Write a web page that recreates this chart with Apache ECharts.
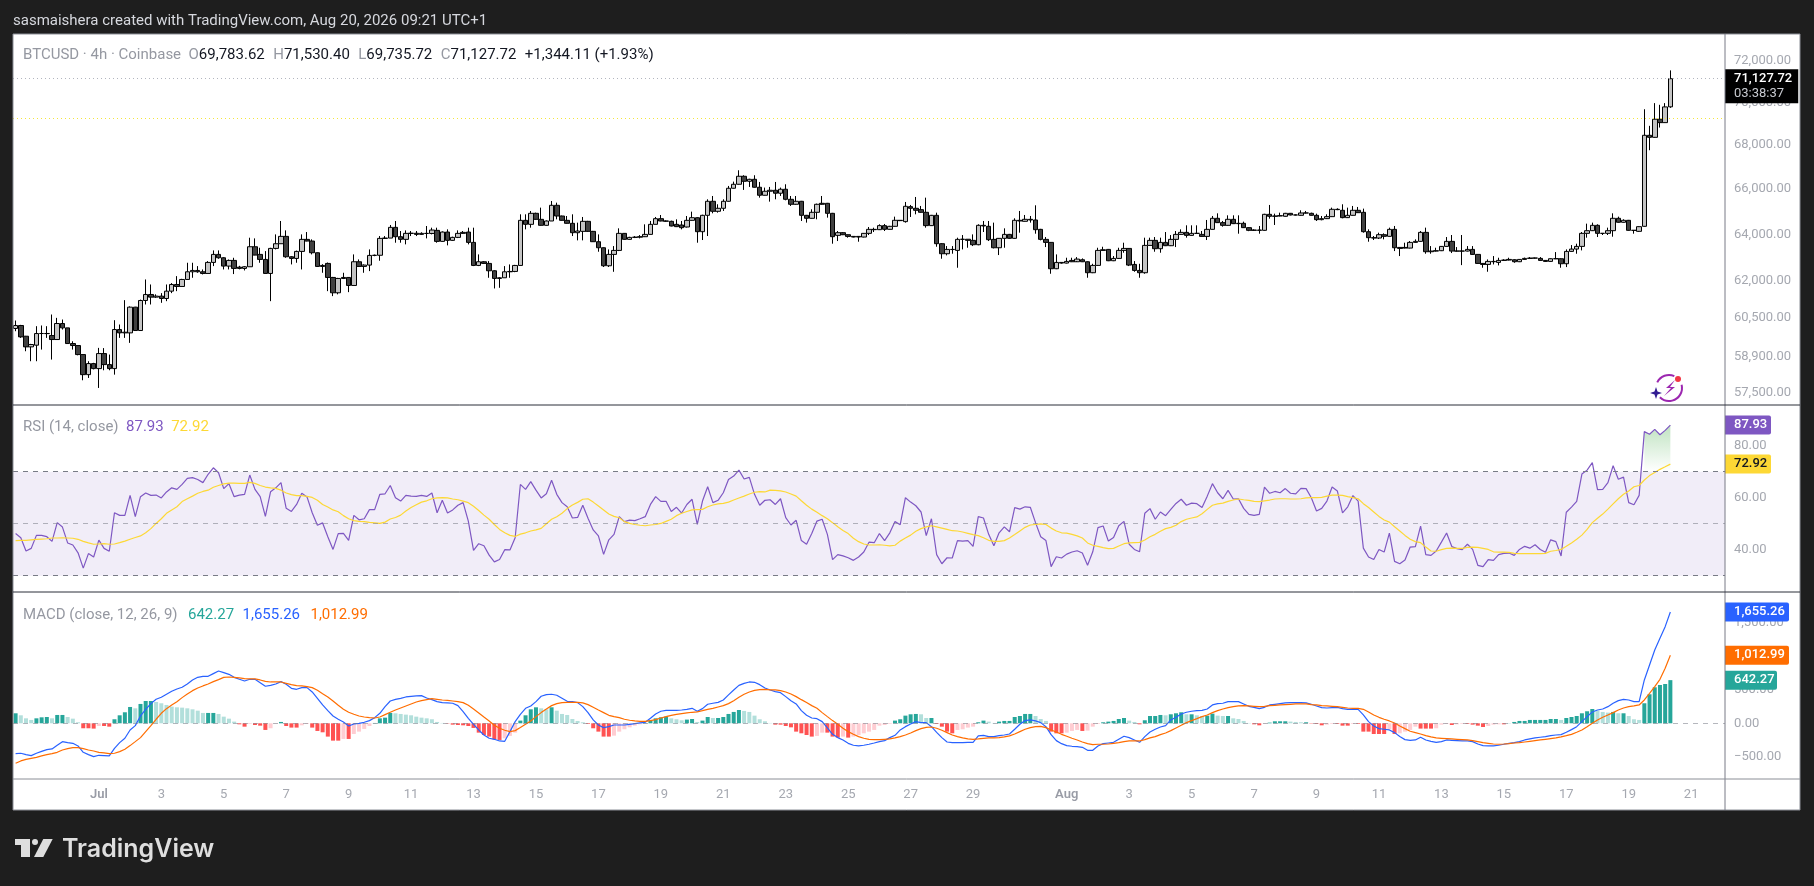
<!DOCTYPE html>
<html><head><meta charset="utf-8">
<style>html,body{margin:0;padding:0;background:#1e1e1e;overflow:hidden}#c{width:1814px;height:886px}</style>
<script src="https://cdn.jsdelivr.net/npm/echarts@6/dist/echarts.min.js"></script>
</head><body><div id="c"></div>
<script>
const opens=[60041,60165,59729,59298,59366,59837,59840,59755,59594,60246,
60068,59433,59352,58990,58192,58630,58431,59030,58590,58431,
60000,59864,59864,60918,59960,61194,61444,61333,61375,61277,
61583,61862,61778,62073,62397,62454,62397,62327,62795,63137,
62993,62638,62880,62595,62539,62610,63466,63137,62922,62327,
63394,63596,63914,63036,62965,63265,63784,63712,63208,62666,
62752,62158,61514,62158,62158,61820,62823,62624,62681,63094,
63100,63827,63840,64306,63899,63784,64044,64050,64000,64044,
64040,64175,63697,64102,63741,63870,64044,64102,63654,62666,
62823,62752,62440,62116,62144,62397,62411,62666,64613,64438,
64921,64657,64394,64584,65275,64803,64613,64482,64073,64132,
64569,64132,63683,63423,62652,63137,63308,64044,63784,63870,
63880,63899,64000,64438,64686,64584,64569,64438,64409,64321,
64613,64729,
64117,64833,65453,65010,65143,65453,66034,66213,66573,66347,
66437,66079,65721,65900,65945,65811,65990,65541,65320,65453,
64833,64702,64966,65364,65364,64921,63958,64074,63986,63913,
63913,63884,64045,64219,64205,64381,64220,64351,64614,64556,
65216,65143,65084,64966,64381,64833,63597,63166,63352,63309,
63784,63790,63741,63553,64395,64351,63784,63423,63828,64000,
63828,64614,64570,64658,64629,64219,63784,63654,62526,62795,
62766,62880,62823,62909,62823,62357,62667,63309,63352,62866,
62966,63309,63394,62709,62455,62357,63524,63741,63381,63654,
63510,63784,64000,64088,63957,64045,64000,63913,64219,64702,
64512,64394,64658,64468,64483,64293,64176,64190,64176,64877,
64789,64804,64789,64921,64848,64833,64936,64921,64833,64643,
64687,64775,65098,65054,64731,64833,65054,64965,64117,63857,
63842,63987,63915,64219,63437,63437,63409,63654,63698,64088,
63252,63280,63295,63481,63698,63280,63280,63280,63352,63137,
62752,62709,62838,62795,62880,62895,62909,62824,62923,62966,
62980,62966,62880,62838,62952,62952,62738,63266,63366,63481,
64045,64161,64395,64045,64045,64161,64702,64527,64614,64176,
64132,64351,68450,68355,69200,69040,69783.62];
const closes=[60165,59702,59298,59393,59837,59840,59835,59594,60246,60068,
59433,59352,58990,58192,58630,58431,59030,58590,58431,60000,
59864,59891,60918,59960,61194,61444,61333,61375,61277,61583,
61862,61778,62073,62397,62454,62397,62327,62795,63137,62993,
62638,62880,62539,62539,62610,63466,63108,62922,62327,63394,
63596,63914,63036,62965,63265,63784,63712,63208,62624,62624,
62158,61514,62116,62116,61820,62823,62624,62681,63094,63100,
63827,63840,64306,63899,63784,64044,64050,64000,64044,64040,
64190,63697,64102,63741,63870,64044,64088,63654,62666,62823,
62752,62440,62116,62144,62397,62411,62666,64613,64438,64921,
64657,64394,64584,65275,64803,64613,64482,64073,64146,64569,
64132,63683,63423,62652,63137,63308,64044,63784,63870,63880,
63899,64000,64438,64686,64584,64575,64365,64336,64292,64613,
64729,64117,
64833,65453,65010,65143,65453,66034,66213,66573,66347,66437,
66079,65721,65900,65945,65811,65990,65541,65320,65453,64833,
64702,64966,65320,65320,64921,63900,64074,63986,63913,63884,
63884,64045,64219,64205,64381,64220,64351,64614,64600,65231,
65143,65054,64966,64381,64833,63597,63166,63352,63345,63784,
63790,63741,63553,64395,64366,63770,63423,63828,64000,63828,
64614,64585,64658,64629,64205,63784,63654,62526,62795,62766,
62838,62823,62937,62823,62357,62667,63309,63337,62866,62966,
63309,63394,62681,62455,62357,63524,63741,63381,63654,63510,
63784,64000,64088,63957,64045,64045,63913,64219,64702,64512,
64394,64658,64468,64483,64293,64176,64190,64176,64877,64789,
64804,64818,64921,64848,64848,64936,64936,64833,64643,64687,
64775,65098,65084,64731,64833,65054,64950,64117,63857,63842,
63987,63915,64219,63423,63394,63409,63654,63698,64088,63252,
63280,63295,63481,63698,63280,63280,63280,63352,63137,62752,
62709,62838,62824,62880,62895,62923,62824,62923,62966,62980,
62980,62880,62838,62952,62952,62738,63266,63366,63481,64045,
64161,64395,64045,64045,64161,64702,64527,64614,64176,64176,
64336,68450,68355,69200,69040,69780,71127.72];
const highs=[60368,60190,59740,59420,60137,60165,60137,60615,60477,60409,
60068,59525,59352,59000,58724,58660,59258,59250,58990,60381,
60205,61208,60950,60930,61230,62073,61862,61450,61500,61862,
61920,62214,62100,62780,62780,62638,62496,62850,63308,63308,
63020,62920,62993,62650,62640,63856,63827,63423,63279,63420,
64000,64584,64175,63060,63300,64000,64102,63784,63220,62720,
62790,62180,62140,62355,62170,63137,62922,62710,63351,63130,
63928,63928,64409,64584,64146,64175,64146,64146,64090,64365,
64292,64292,64130,64219,63900,64175,64146,64292,64292,63137,
62850,62851,62460,62170,62638,62709,62690,64877,64877,65024,
64950,65172,64610,65466,65393,64820,64803,64877,64511,64760,
64590,64150,64000,63440,63351,63495,64263,64060,63895,63925,
63970,64438,64584,64760,64847,64610,64600,64657,64584,64803,
64995,64750,
64860,65541,65689,65320,65541,66138,66332,66845,66620,66460,
66620,66317,66064,66094,66317,66064,66213,65689,65689,65470,
64850,65100,65350,65689,65380,64940,64146,64100,64000,63930,
63930,64060,64322,64292,64439,64454,64370,64775,64625,65423,
65290,65645,65246,65615,64850,64950,63620,63495,63495,63857,
63972,63784,64000,64440,64585,64585,64512,63840,64263,64020,
64702,65025,64848,64804,65275,64240,63885,63670,63137,62810,
62995,62995,63023,62966,62840,62737,63423,63466,63370,63066,
63423,63640,63410,62852,62737,63857,63857,63885,63857,64103,
63972,64146,64219,64395,64395,64395,64146,64629,64804,64921,
64585,64833,64833,64833,64556,64310,64220,64366,64900,65290,
64906,64950,64940,64936,64870,65054,65025,64950,64906,64804,
64877,65172,65143,65320,65172,65246,65202,65128,64219,63929,
64074,64045,64293,64366,63450,63640,63712,63785,64146,64293,
63495,63423,63495,63886,63973,63452,63973,63495,63495,63150,
62770,62923,63066,62995,62930,62995,62930,62940,63000,63023,
63000,63023,62895,62970,63237,62970,63352,63538,63597,64103,
64468,64512,64439,64060,64293,64921,64775,64658,64630,64190,
64350,69670,68890,69960,69880,69960,71530.40];
const lows=[59932,59661,59123,58724,58724,59190,59661,58790,59594,60000,
59433,59190,58960,57970,58062,58400,57669,58365,58365,58192,
59661,59661,59460,59950,59960,61028,61028,61300,61097,61166,
61500,61583,61778,62073,62144,62355,62285,62327,62638,62950,
62496,62496,62300,62500,62454,62610,63100,62780,62327,61166,
63350,63596,62993,62709,62780,62496,63700,63137,62600,62355,
61583,61375,61450,62090,61541,61820,62610,62355,62426,63060,
62866,63800,63840,63640,63640,63568,63928,63928,63980,63827,
64000,63640,63680,63525,63720,63840,64020,63568,62638,62638,
62730,62144,61695,61723,62144,62144,62380,62666,64219,64292,
64640,64380,64380,64584,64657,64600,64470,63928,63741,63741,
64110,63670,63251,62600,62600,62397,63280,63770,63770,63840,
63827,63885,64000,64438,64570,64550,64350,64320,64219,64300,
64600,63640,
63756,63929,64921,64951,65025,65440,66020,66200,65960,66094,
66064,65615,65710,65438,65541,65691,65497,65246,65300,64585,
64512,64690,64658,65300,64731,63597,63712,63970,63857,63870,
63683,63870,63972,64103,64190,64146,64210,64340,64580,64512,
64760,64877,64950,64293,64370,63466,62952,63095,63166,62568,
63352,63423,63495,63530,64103,63712,63394,63109,63423,63810,
63810,64074,64560,64512,64030,63741,63452,62314,62510,62740,
62750,62810,62852,62810,62145,62340,62650,63300,62850,62850,
62950,63209,62639,62399,62145,62314,63510,63252,63209,63495,
63495,63452,63985,63857,63940,64020,63900,63756,64205,64498,
64336,64380,64450,64030,64280,64140,64150,64030,64160,64687,
64410,64790,64775,64830,64830,64820,64915,64818,64585,64614,
64670,64760,65060,64702,64715,64820,64935,64074,63683,63756,
63800,63785,63900,63280,63066,63395,63395,63640,63680,63166,
63166,63260,63280,63470,63195,63260,62680,63265,63120,62740,
62568,62399,62709,62667,62860,62880,62780,62810,62910,62950,
62960,62865,62820,62825,62935,62568,62596,63250,63166,63309,
63857,64146,63886,63973,63973,63900,64510,64510,64160,64030,
64110,64340,67760,68340,68810,69030,69735.72];
const rsi=[46.2,44.6,39.5,40.5,45.5,45.5,45.0,43.2,50.4,48.7,42.6,41.8,38.8,32.9,38.5,37.2,43.7,40.5,39.4,54.2,
53.2,53.2,60.9,52.7,60.4,61.8,60.9,61.0,59.9,62.2,63.8,63.2,65.1,67.4,67.7,67.0,65.8,69.0,71.5,69.6,
63.5,65.4,60.4,61.0,61.3,68.7,63.2,60.4,52.8,62.3,63.8,65.8,55.9,54.7,57.4,61.7,60.3,54.2,49.4,50.3,
45.0,40.1,46.2,46.3,43.6,53.2,51.5,51.9,55.4,55.4,61.3,61.5,64.7,60.0,58.7,60.9,60.6,60.5,60.9,60.5,
61.8,54.2,59.0,54.1,55.3,57.1,58.1,51.0,39.7,42.3,41.5,37.9,35.3,36.2,40.0,39.9,44.6,65.1,63.2,66.2,
62.9,59.9,61.5,66.7,61.3,58.1,56.5,52.2,52.4,57.1,52.1,47.6,45.3,38.2,43.8,45.9,52.7,
50.8,51.4,51.2,51.9,52.7,57.4,60.4,58.6,58.6,54.7,56.3,54.1,57.4,59.4,49.7,58.7,64.2,58.1,59.0,61.9,
67.0,68.3,70.6,67.2,67.8,61.3,57.1,59.0,59.2,57.4,59.6,52.3,49.5,51.3,43.5,42.1,46.2,51.0,51.7,45.9,
36.2,38.1,37.6,36.9,35.9,37.2,39.1,42.9,42.7,46.2,43.5,46.5,50.8,49.6,60.0,58.3,56.9,54.5,45.4,51.9,
38.1,34.6,36.9,36.8,43.5,43.3,43.5,41.3,52.7,52.2,45.9,41.5,46.5,48.8,46.9,56.2,55.6,56.5,56.3,50.4,
45.0,43.5,33.5,37.3,36.8,38.3,39.1,39.6,38.7,34.0,39.2,48.5,49.1,43.3,44.7,49.2,50.9,42.1,40.1,39.2,
54.0,55.8,51.7,54.5,53.1,55.5,57.8,59.4,57.1,57.9,57.7,56.2,
60.6,65.4,61.9,59.6,62.8,59.5,59.6,55.9,53.6,53.2,53.6,64.1,61.7,62.4,61.9,63.5,61.7,61.5,63.6,63.5,
60.0,54.9,55.9,58.7,64.1,62.6,54.2,56.5,60.8,58.7,40.6,37.2,36.2,40.1,39.1,46.4,35.5,34.6,36.0,41.0,
41.2,49.1,38.1,37.8,39.5,42.9,46.4,41.2,40.4,40.0,42.1,40.1,34.0,33.5,36.2,35.9,38.1,38.6,38.7,37.8,
40.1,41.3,40.6,41.9,40.1,39.0,43.8,43.1,37.6,54.4,56.4,58.6,69.1,70.6,73.5,63.1,63.2,65.8,72.3,67.1,
67.9,58.1,57.3,60.9,85.4,84.4,86.3,84.2,85.9,87.93];
const rsiMa=[43.5,43.6,43.6,43.8,44.0,44.1,44.2,44.5,44.5,44.6,44.5,44.4,44.0,43.2,42.6,42.1,42.2,42.3,42.1,42.2,
42.7,43.3,44.0,44.7,45.3,46.5,48.1,50.1,51.9,54.0,55.3,56.5,58.5,59.6,60.6,61.7,62.4,62.9,64.0,64.7,
65.3,65.6,65.6,65.5,65.5,65.9,65.5,64.7,64.1,63.8,63.6,62.9,61.8,61.2,60.8,60.8,60.5,60.1,59.0,57.4,
56.4,55.3,54.6,53.1,51.9,51.2,50.9,50.8,50.5,50.3,50.1,50.6,51.8,52.4,53.3,54.9,56.2,57.3,58.3,58.8,
59.6,59.9,60.0,59.9,59.5,59.2,58.7,58.1,56.7,55.1,53.3,51.7,49.7,47.8,46.5,45.5,45.1,46.0,46.5,47.2,
47.6,48.2,50.0,51.7,52.7,54.0,55.8,57.2,58.2,59.4,59.6,58.3,56.8,55.3,53.7,52.8,52.3,
50.8,50.1,49.7,49.4,49.2,49.5,49.7,50.1,50.9,51.7,53.1,54.0,54.7,55.3,55.4,55.5,56.5,57.2,57.6,57.8,
58.3,59.1,59.9,60.6,61.4,62.1,62.3,62.2,62.9,62.8,62.6,62.2,61.4,60.6,58.8,57.1,55.6,54.4,53.1,51.9,
50.4,48.8,47.4,46.2,44.4,43.1,42.2,41.8,41.8,41.9,41.7,41.5,41.7,43.3,44.5,45.6,47.1,48.1,48.8,49.2,
48.8,48.3,47.8,47.3,47.2,46.8,46.3,45.8,45.4,44.6,43.6,43.2,43.2,43.5,44.5,45.8,47.2,48.6,49.5,49.7,
49.9,49.7,48.3,47.2,46.5,46.4,45.9,45.3,44.5,42.6,41.7,41.3,40.8,40.4,40.5,41.4,42.3,42.6,42.7,42.8,
43.7,45.0,45.9,47.1,48.1,48.6,49.4,50.8,51.7,52.2,52.6,53.8,
55.5,57.1,57.6,57.9,58.6,59.1,59.5,59.2,59.0,58.6,58.5,58.8,59.1,59.5,59.6,59.6,59.5,59.5,59.6,59.9,
60.0,60.0,60.1,60.6,61.0,61.0,60.9,60.4,60.0,59.6,57.7,56.2,54.5,52.8,51.4,50.6,48.8,47.2,45.5,44.0,
43.1,42.7,41.0,39.5,39.4,40.0,40.5,40.6,40.5,40.5,40.9,41.0,40.9,40.5,40.1,39.2,39.1,39.1,39.0,38.6,
38.5,38.5,38.5,38.5,38.5,38.6,39.4,39.7,40.1,41.3,42.6,44.0,45.6,47.8,50.4,52.1,53.7,55.6,57.6,59.6,
61.3,62.6,64.2,64.7,66.8,68.5,69.7,70.9,71.9,72.92];
const macdLine=[-451,-446,-466,-481,-446,-417,-392,-382,-327,-273,-288,-298,-337,-432,-466,-496,-476,-481,-486,-372,
-288,-223,-99,-35,109,208,293,357,387,432,476,511,536,585,645,684,699,699,739,779,
754,729,684,655,630,655,655,605,551,565,585,620,580,521,506,531,531,466,372,273,
188,109,60,20,-40,-10,0,15,40,84,149,248,332,357,372,392,402,407,412,377,
352,322,308,303,298,263,174,74,-15,-99,-174,-223,-238,-263,-268,-124,25,134,223,258,
322,402,427,432,417,372,327,322,308,248,159,50,-25,-64,-50,-25,-25,
-25,-15,-5,5,15,74,139,179,193,193,193,198,208,223,179,218,283,298,312,347,
422,496,565,595,615,610,575,526,496,471,456,397,337,288,188,119,79,69,25,-69,
-164,-213,-248,-298,-327,-337,-327,-312,-293,-273,-258,-213,-179,-99,-50,-10,25,10,10,-50,
-134,-213,-278,-288,-288,-288,-283,-283,-188,-179,-198,-198,-184,-174,-159,-89,-15,40,50,35,
10,-50,-169,-258,-303,-332,-342,-347,-357,-402,-402,-337,-303,-293,-283,-238,-193,-213,-248,-283,
-198,-129,-89,-55,-35,50,89,139,164,179,188,193,
213,273,293,298,322,322,322,288,253,238,218,238,273,283,293,303,308,308,308,303,
283,258,233,228,233,238,218,208,208,208,124,25,-40,-79,-89,-99,-139,-198,-243,-253,
-248,-208,-248,-268,-283,-273,-248,-253,-258,-263,-263,-273,-308,-332,-337,-337,-327,-312,-298,-288,
-273,-248,-233,-218,-208,-198,-184,-174,-169,-134,-94,-50,25,99,169,198,213,248,298,337,
357,347,322,322,645,868,1091,1265,1438,1655.26];
const signalLine=[-595,-560,-536,-521,-506,-486,-466,-451,-432,-397,-377,-362,-362,-377,-397,-412,-432,-441,-451,-446,
-422,-387,-332,-273,-213,-124,-35,60,149,218,273,322,382,436,486,526,556,585,620,650,
684,689,684,675,665,660,660,645,625,615,615,615,595,575,560,556,546,531,491,441,
392,332,268,208,164,134,109,94,84,79,94,129,164,198,228,258,288,317,337,352,
367,357,347,342,332,322,308,268,213,154,94,35,-30,-74,-104,-124,-109,-64,-15,35,
99,159,213,263,293,308,312,312,312,303,278,238,198,159,119,99,84,
60,45,35,30,30,40,55,79,99,119,134,144,154,164,169,188,208,223,243,263,
293,337,387,432,466,491,501,506,496,496,486,466,436,397,352,308,263,223,159,99,
40,-15,-74,-124,-164,-198,-223,-238,-243,-243,-238,-233,-218,-198,-174,-144,-109,-79,-60,-55,
-74,-104,-139,-174,-198,-218,-233,-238,-233,-223,-218,-218,-213,-203,-188,-159,-124,-89,-64,-50,
-45,-64,-99,-129,-164,-193,-223,-248,-278,-303,-317,-312,-312,-308,-298,-288,-273,-263,-263,-263,
-243,-218,-198,-169,-144,-109,-69,-30,10,40,69,99,
124,159,188,213,233,248,258,263,258,253,248,253,263,268,273,278,283,288,288,288,
278,273,263,258,253,248,238,228,223,223,208,169,124,89,60,35,5,-40,-79,-119,
-139,-159,-184,-203,-218,-223,-228,-233,-238,-243,-248,-258,-273,-288,-298,-308,-312,-308,-303,-293,
-288,-278,-268,-258,-248,-238,-228,-218,-203,-184,-164,-134,-99,-50,0,50,89,124,159,198,
228,248,258,273,347,446,546,655,818,1012.99];
const macdHist=[149,119,74,50,74,89,94,74,124,124,94,69,15,-74,-74,-79,-40,-40,-50,60,
119,164,243,223,288,332,332,317,298,273,248,238,233,223,208,188,154,154,154,139,
99,69,25,-15,-50,-10,-25,-35,-99,-74,-5,20,-40,-64,-64,-30,-10,-64,-114,-134,
-198,-258,-258,-233,-233,-159,-124,-84,-40,5,74,84,154,149,139,129,119,99,84,74,
60,20,5,-5,-20,-25,-30,-40,-69,-139,-174,-198,-238,-248,-223,-188,-139,40,119,208,
238,223,208,238,188,139,124,64,35,15,-10,-74,-124,-198,-198,-184,-124,
-89,-60,-35,-15,5,45,74,89,99,74,60,45,55,64,20,40,94,79,79,94,
139,169,198,184,169,114,60,30,5,-20,-20,-40,-60,-124,-149,-174,-198,-188,-139,-139,
-198,-213,-198,-213,-198,-174,-149,-124,-99,-35,-25,-10,40,60,114,134,139,134,79,79,
-10,-50,-124,-149,-99,-89,-64,-50,15,40,25,5,25,35,35,94,109,139,139,109,
64,35,-124,-149,-149,-139,-114,-99,-114,-109,-50,-10,15,25,35,64,79,40,20,-15,
45,109,109,124,119,134,149,164,134,134,119,109,
114,144,114,109,109,74,64,35,5,-15,-30,-5,10,30,30,30,25,20,15,15,
-5,-10,-30,-20,-10,-10,-35,-35,-10,-10,-124,-124,-159,-159,-159,-89,-159,-149,-124,-99,
-50,-79,-79,-79,-74,-20,-10,-25,-15,-10,-10,-20,-35,-55,-40,-20,-15,-15,2,20,
35,35,50,50,50,50,64,64,50,79,94,109,149,179,213,188,169,159,169,149,
149,109,60,50,298,432,536,570,585,642.27];
const priceTicks=[72000,70000,68000,66000,64000,62000,60500,58900,57500];
const lastPrice=71127.72, lastPriceCountdown='03:38:37', prevLevel=69237;
const rsiTicks=[40,60,80];
const macdTicks=[-500,0,500,1500];
const tickCats=['Jul 1','Jul 3','Jul 5','Jul 7','Jul 9','Jul 11','Jul 13','Jul 15','Jul 17','Jul 19','Jul 21','Jul 23','Jul 25','Jul 27','Jul 29','Aug 1','Aug 3','Aug 5','Aug 7','Aug 9','Aug 11','Aug 13','Aug 15','Aug 17','Aug 19','Aug 21'];
const tickLabels=['Jul','3','5','7','9','11','13','15','17','19','21','23','25','27','29','Aug','3','5','7','9','11','13','15','17','19','21'];

const MON=['Jun','Jul','Aug'];
const barCount=329, t0=Date.UTC(2026,5,28,8);
const categories=[];
for(let i=0;i<barCount;i++){const d=new Date(t0+i*4*3600e3);
  categories.push(MON[d.getUTCMonth()-5]+' '+d.getUTCDate()+(d.getUTCHours()===0?'':' '+d.getUTCHours()+'h'));}
const tickMap={};tickCats.forEach((c,i)=>tickMap[c]=tickLabels[i]);

const FONT='Roboto, "Liberation Sans", sans-serif';
const AXC='#a5a8b0';
const fmt=v=>v.toLocaleString('en-US',{minimumFractionDigits:2,maximumFractionDigits:2});
const candle=opens.map((o,i)=>[o,closes[i],lows[i],highs[i]]);
const hide={color:'rgba(0,0,0,0)'};
const priceLabels=priceTicks.map(v=>({yAxis:v,lineStyle:hide,label:{show:true,position:'end',distance:9,formatter:fmt(v),color:AXC,fontSize:13,fontFamily:FONT}}));
function badge(v,text,bg,fg,w){return {yAxis:v,lineStyle:hide,label:{show:true,position:'end',distance:0,formatter:text,color:fg,backgroundColor:bg,fontSize:13,fontWeight:500,fontFamily:FONT,padding:[3,6,3,9],width:w-15,height:13,lineHeight:13,borderRadius:[0,2,2,0]}}}
const xBase=(g,show)=>({type:'category',gridIndex:g,data:categories,boundaryGap:true,axisLine:{show:false},axisTick:{show:false},splitLine:{show:false},
  axisLabel:show?{show:true,margin:9,interval:(i,v)=>tickMap[v]!==undefined,hideOverlap:false,formatter:v=>{const l=tickMap[v]||'';return /[A-Z]/.test(l)?'{m|'+l+'}':l},color:AXC,fontSize:13,fontFamily:FONT,rich:{m:{fontWeight:600,color:'#999ca6',fontSize:13,fontFamily:FONT}}}:{show:false}});
const T=15;
const st=(c,pr)=>({color:c,fontSize:T,fontFamily:FONT,padding:[0,pr||0,0,0]});

const option={
 animation:false,backgroundColor:'#1e1e1e',
 title:[
  {left:13,top:14,padding:0,text:'sasmaishera created with TradingView.com, Aug 20, 2026 09:21 UTC+1',textStyle:{color:'#d6d8de',fontSize:T,fontWeight:400,fontFamily:FONT}},
  {left:23,top:48,padding:0,text:'{g|BTCUSD · 4h · Coinbase}  {g|O}{k|69,783.62}  {g|H}{k|71,530.40}  {g|L}{k|69,735.72}  {g|C}{k|71,127.72}  {k|+1,344.11 (+1.93%)}',
   textStyle:{fontSize:T,fontWeight:400,fontFamily:FONT,rich:{g:st('#9598a1'),k:st('#131722',1)}}},
  {left:23,top:420,padding:0,text:'{g|RSI (14, close)}  {p|87.93}  {y|72.92}',textStyle:{fontSize:T,fontWeight:400,fontFamily:FONT,rich:{g:st('#9598a1'),p:st('#7e57c2'),y:st('#fdd835')}}},
  {left:23,top:608,padding:0,text:'{g|MACD (close, 12, 26, 9)}  {t|642.27}  {b|1,655.26}  {o|1,012.99}',textStyle:{fontSize:T,fontWeight:400,fontFamily:FONT,rich:{g:st('#9598a1',3),t:st('#26a69a',1),b:st('#2962ff',3),o:st('#ff6d00')}}},
  {left:62,top:837,padding:0,text:'TradingView',textStyle:{color:'#dedede',fontSize:25,fontWeight:600,fontFamily:'Inter, Roboto, sans-serif'}}
 ],
 graphic:{elements:[
  {type:'rect',silent:true,z:-10,shape:{x:13,y:34,width:1787,height:776},style:{fill:'#fff'}},
  {type:'rect',silent:true,z:100,shape:{x:13,y:34,width:1787,height:776},style:{fill:null,stroke:'#8b8e96',lineWidth:1}},
  {type:'line',silent:true,z:100,shape:{x1:1725,y1:34,x2:1725,y2:810},style:{stroke:'#787b86',lineWidth:1}},
  {type:'line',silent:true,z:100,shape:{x1:13,y1:405,x2:1800,y2:405},style:{stroke:'#2a2e39',lineWidth:1}},
  {type:'line',silent:true,z:100,shape:{x1:13,y1:592,x2:1800,y2:592},style:{stroke:'#2a2e39',lineWidth:1}},
  {type:'line',silent:true,z:100,shape:{x1:13,y1:779,x2:1800,y2:779},style:{stroke:'#8b8e96',lineWidth:1}},
  {type:'polygon',silent:true,z:100,shape:{points:[[15,839],[30,839],[30,857],[21,857],[21,845],[15,845]]},style:{fill:'#dedede'}},
  {type:'circle',silent:true,z:100,shape:{cx:35,cy:842,r:3},style:{fill:'#dedede'}},
  {type:'polygon',silent:true,z:100,shape:{points:[[43.3,839],[52.7,839],[43.3,857],[34,857]]},style:{fill:'#dedede'}},
  {type:'arc',silent:true,z:100,shape:{cx:1669,cy:388,r:13,startAngle:-2.7,endAngle:-1.15,clockwise:true},style:{stroke:'#9c27b0',lineWidth:2,fill:null}},
  {type:'arc',silent:true,z:100,shape:{cx:1669,cy:388,r:13,startAngle:-0.25,endAngle:2.35,clockwise:true},style:{stroke:'#9c27b0',lineWidth:2,fill:null}},
  {type:'polygon',silent:true,z:100,shape:{points:[[1675,380],[1666,388],[1671,388],[1664,396],[1675,387],[1670,387]]},style:{fill:'#9c27b0'}},
  {type:'polygon',silent:true,z:100,shape:{points:[[1656,387],[1657.5,391.5],[1662,393],[1657.5,394.5],[1656,399],[1654.5,394.5],[1650,393],[1654.5,391.5]]},style:{fill:'#311b92'}},
  {type:'circle',silent:true,z:100,shape:{cx:1678,cy:379,r:3},style:{fill:'#f23645'}}
 ]},
 grid:[
  {left:13,top:34,width:1712,height:371},
  {left:13,top:405,width:1712,height:187},
  {left:13,top:592,width:1712,height:187}
 ],
 xAxis:[xBase(0,false),xBase(1,false),xBase(2,true)],
 yAxis:[
  {type:'log',gridIndex:0,logBase:10,min:57006,max:73318,position:'right',axisLine:{show:false},axisTick:{show:false},axisLabel:{show:false},splitLine:{show:false}},
  {type:'value',gridIndex:1,min:23.73,max:95.65,position:'right',axisLine:{show:false},axisTick:{show:false},splitLine:{show:false},
   axisLabel:{customValues:rsiTicks,margin:9,formatter:v=>v.toFixed(2),color:AXC,fontSize:13,fontFamily:FONT,align:'left'}},
  {type:'value',gridIndex:2,min:-829,max:1954,position:'right',axisLine:{show:false},axisTick:{show:false},splitLine:{show:false},
   axisLabel:{customValues:macdTicks,margin:9,formatter:v=>(v<0?'\u2212':'')+fmt(Math.abs(v)),color:AXC,fontSize:13,fontFamily:FONT,align:'left'}}
 ],
 series:[
  {type:'candlestick',name:'BTCUSD',xAxisIndex:0,yAxisIndex:0,data:candle,barWidth:5,
   itemStyle:{color:'#c4c4c4',color0:'#404040',borderColor:'#000',borderColor0:'#000',borderWidth:1},
   markLine:{silent:true,symbol:'none',animation:false,data:[
     ...priceLabels,
     {yAxis:lastPrice,lineStyle:{color:'#b2b5be',type:[1,3],width:1},label:{show:false}},
     {yAxis:prevLevel,lineStyle:{color:'#f5e63a',type:[1,3],width:1},label:{show:false}},
     {yAxis:lastPrice,lineStyle:hide,label:{show:true,position:'end',distance:0,offset:[0,7.5],backgroundColor:'#000',color:'#fff',fontFamily:FONT,fontSize:13,fontWeight:500,lineHeight:15,padding:[2,6,2,9],formatter:fmt(lastPrice)+'\n{s|'+lastPriceCountdown+'}',rich:{s:{color:'#c8cad0',fontSize:13,fontWeight:400,fontFamily:FONT,lineHeight:15}}}}
   ]}},
  {type:'line',name:'RSIfill',xAxisIndex:1,yAxisIndex:1,data:rsi.map((v,i)=>i>=313?v:null),showSymbol:false,connectNulls:false,lineStyle:{width:0},z:1,
   areaStyle:{origin:70,color:{type:'linear',x:0,y:0,x2:0,y2:1,colorStops:[{offset:0,color:'rgba(76,175,80,0.5)'},{offset:1,color:'rgba(76,175,80,0)'}]}}},
  {type:'line',name:'RSI',xAxisIndex:1,yAxisIndex:1,data:rsi,showSymbol:false,lineStyle:{color:'#7e57c2',width:1.2},
   markArea:{silent:true,itemStyle:{color:'rgba(126,87,194,0.11)'},data:[[{yAxis:70},{yAxis:30}]]},
   markLine:{silent:true,symbol:'none',animation:false,data:[
     {yAxis:70,lineStyle:{color:'#787b86',type:[5,5],width:1},label:{show:false}},
     {yAxis:50,lineStyle:{color:'rgba(120,123,134,0.55)',type:[5,5],width:1},label:{show:false}},
     {yAxis:30,lineStyle:{color:'#787b86',type:[5,5],width:1},label:{show:false}},
     badge(87.93,'87.93','#7e57c2','#fff',46),
     badge(72.92,'72.92','#fdd835','#131722',46)
   ]}},
  {type:'line',name:'RSI MA',xAxisIndex:1,yAxisIndex:1,data:rsiMa,showSymbol:false,lineStyle:{color:'#fdd835',width:1.2}},
  {type:'bar',name:'Hist',xAxisIndex:2,yAxisIndex:2,barWidth:4,data:macdHist,
   itemStyle:{color:p=>{const v=p.value,prev=p.dataIndex?macdHist[p.dataIndex-1]:0;return v>=0?(v>=prev?'#26a69a':'#b2dfdb'):(v<=prev?'#ff5252':'#ffcdd2')}},
   markLine:{silent:true,symbol:'none',animation:false,data:[
     {yAxis:0,lineStyle:{color:'rgba(120,123,134,0.55)',type:[5,5],width:1},label:{show:false}}]}},
  {type:'line',name:'MACD',xAxisIndex:2,yAxisIndex:2,data:macdLine,showSymbol:false,lineStyle:{color:'#2962ff',width:1.2},
   markLine:{silent:true,symbol:'none',animation:false,data:[
     badge(1655.26,'1,655.26','#2962ff','#fff',64),
     badge(642.27,'642.27','#26a69a','#fff',52)]}},
  {type:'line',name:'Signal',xAxisIndex:2,yAxisIndex:2,data:signalLine,showSymbol:false,lineStyle:{color:'#ff6d00',width:1.2},
   markLine:{silent:true,symbol:'none',animation:false,data:[
     badge(1012.99,'1,012.99','#ff6d00','#fff',64)]}}
 ]
};
const chart=echarts.init(document.getElementById('c'),null,{renderer:'canvas'});
chart.setOption(option);
</script></body></html>
